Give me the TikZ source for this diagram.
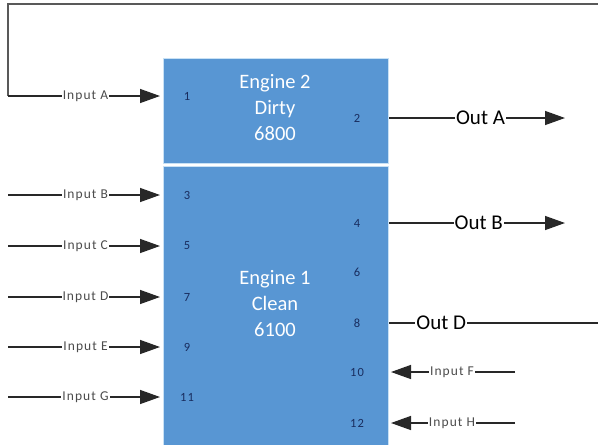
\documentclass[tikz,border=0pt]{standalone}
\usepackage{fontspec}
\setmainfont{Carlito}
\newfontfamily\pinfont[LetterSpace=8]{Carlito}
\usetikzlibrary{arrows.meta}

\definecolor{engblue}{RGB}{88,150,211}
\definecolor{engedge}{RGB}{200,225,245}
\definecolor{pinblue}{RGB}{25,45,95}
\definecolor{wire}{RGB}{40,40,40}

\tikzset{
  engine/.style={fill=engblue, draw=engedge, line width=1pt, inner sep=0pt, anchor=north west},
  enginetext/.style={text=white, font=\fontsize{20.5}{26}\selectfont, align=center},
  pin/.style={text=pinblue, font=\pinfont\fontsize{12.5}{13}\selectfont},
  wireline/.style={draw=wire, line width=1.4pt},
  inarrow/.style={wireline, -{Triangle[length=20pt,width=14pt]}},
  smalllabel/.style={fill=white, inner sep=1pt, text=black!70, font=\pinfont\fontsize{13.5}{14}\selectfont},
  biglabel/.style={fill=white, inner sep=1pt, font=\fontsize{21}{22}\selectfont}
}

\begin{document}
\begin{tikzpicture}[x=1pt, y=-1pt]

    \useasboundingbox (0,0) rectangle (598,445);
    \clip (0,0) rectangle (598,445);

    % Blocs
    \node[engine, minimum width=225pt, minimum height=105pt] (eng2) at (163,58) {};
    \node[engine, minimum width=225pt, minimum height=300pt] (eng1) at (163,166) {};

    \node[enginetext] (eng2text) at (275,108) {Engine 2\\Dirty\\6800};
    \node[enginetext] (eng1text) at (275,304) {Engine 1\\Clean\\6100};

    % Broches
    \foreach \n/\y in {1/96, 3/195, 5/246, 7/297, 9/347, 11/397}
        \node[pin] (pin\n) at (187,\y) {\n};
    \foreach \n/\y in {2/118, 4/223, 6/272, 8/323, 10/372, 12/423}
        \node[pin] (pin\n) at (357,\y) {\n};

    % Entrees gauche
    \coordinate (loopend) at (598,4);
    \coordinate (srcA) at (8,0 |- pin1);
    \draw[wireline, line width=2pt, draw=black!65] (loopend) -| (srcA);
    \draw[inarrow, shorten >=3pt] (srcA) -- (srcA -| eng2.west) node[smalllabel, midway] {Input A};

    \foreach \lab/\n in {B/3, C/5, D/7, E/9, G/11} {
        \coordinate (src\lab) at (8,0 |- pin\n);
        \draw[inarrow, shorten >=3pt] (src\lab) -- (src\lab -| eng1.west) node[smalllabel, midway] {Input \lab};
    }

    % Entrees droite
    \foreach \lab/\n in {F/10, H/12} {
        \coordinate (src\lab) at (515,0 |- pin\n);
        \draw[inarrow, shorten >=2pt] (src\lab) -- (src\lab -| eng1.east) node[smalllabel, midway] {Input \lab};
    }

    % Sorties
    \coordinate (sinkA) at (565,0 |- pin2);
    \coordinate (sinkB) at (565,0 |- pin4);
    \coordinate (sinkD) at (598,0 |- pin8);
    \draw[inarrow] (eng2.east |- pin2) -- (sinkA) node[biglabel, pos=0.52] {Out A};
    \draw[inarrow] (eng1.east |- pin4) -- (sinkB) node[biglabel, pos=0.51] {Out B};
    \draw[wireline] (eng1.east |- pin8) -- (sinkD) node[biglabel, pos=0.25] {Out D};

\end{tikzpicture}
\end{document}
